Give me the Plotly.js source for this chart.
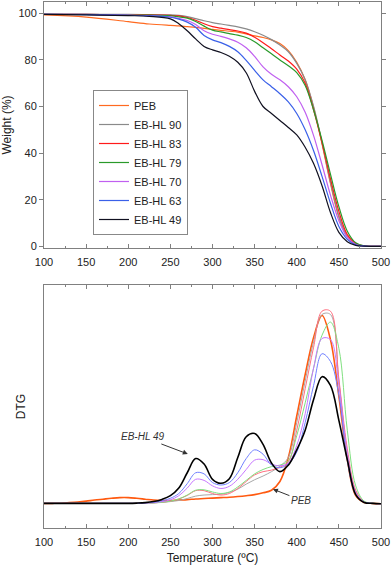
<!DOCTYPE html>
<html>
<head>
<meta charset="utf-8">
<script src="https://cdn.plot.ly/plotly-3.0.1.min.js"></script>
<style>html,body{margin:0;padding:0;background:#fff;}#chart{width:392px;height:566px;}</style>
</head>
<body>
<div id="chart"></div>
<script>
// ---------- DATA ----------
const seriesNames = ['PEB', 'EB-HL 90', 'EB-HL 83', 'EB-HL 79', 'EB-HL 70', 'EB-HL 63', 'EB-HL 49'];

// TGA: weight (%) vs temperature (ºC)
const tgaTemp = [100,150,200,225,250,260,270,280,290,300,310,320,330,340,350,360,370,380,390,400,410,420,430,440,450,460,470,480,500];
const tgaPEB   = [99.3,98.4,96.4,95.4,94.8,94.6,94.3,94.0,93.5,93.1,92.7,92.3,91.9,91.2,90.3,89.6,88.6,87.0,84.0,79.0,71.5,59.5,44.0,27.0,12.5,4.0,0.8,0.1,0];
const tgaHL90  = [99.7,99.6,99.5,99.4,99.3,99.1,98.6,97.7,96.8,96.0,95.4,94.8,94.2,93.3,92.1,90.6,88.7,86.4,83.5,78.5,71.5,60.0,44.5,27.5,13.0,4.0,0.8,0.1,0];
const tgaHL83  = [99.6,99.5,99.4,99.3,99.1,98.9,98.2,97.0,95.5,94.3,93.6,93.0,92.4,91.5,89.7,87.4,84.8,82.1,79.5,76.0,70.0,58.5,44.5,29.0,15.0,5.0,1.2,0.2,0];
const tgaHL79  = [99.6,99.5,99.3,99.2,98.9,98.5,97.9,96.5,94.5,92.8,92.0,91.3,90.6,89.6,87.8,85.2,82.6,80.0,77.5,74.5,69.0,58.5,45.5,31.0,17.0,6.5,1.5,0.2,0];
const tgaHL70  = [99.6,99.5,99.2,99.0,98.5,97.8,96.9,95.2,92.5,91.0,90.1,89.0,87.6,85.2,81.5,77.0,73.8,71.5,68.5,64.2,57.5,47.5,35.0,22.0,11.0,3.8,0.8,0.1,0];
const tgaHL63  = [99.6,99.4,99.1,98.9,98.3,97.5,96.2,94.0,90.5,88.6,87.4,85.8,83.5,79.8,75.5,71.4,68.5,65.5,62.0,57.0,50.0,41.0,30.0,18.5,8.5,3.0,0.6,0.1,0];
const tgaHL49  = [99.5,99.3,99.0,98.7,97.6,95.5,92.5,89.0,85.8,84.3,83.2,81.6,79.0,74.5,66.5,60.0,57.0,54.0,51.0,47.8,42.5,35.5,26.0,14.5,6.0,2.0,0.4,0.1,0];

// DTG (arbitrary units) vs temperature (ºC)
const dtgTemp = [100,110,120,130,140,150,160,170,180,190,200,210,220,230,240,250,260,270,280,290,300,310,320,330,340,350,360,370,380,390,400,410,420,430,440,450,460,470,480,490,500];
const dtgPEB  = [0,0,0.05,0.3,0.6,1.0,1.5,1.9,2.3,2.6,2.6,2.3,1.9,1.5,1.3,1.3,1.5,1.7,2.0,2.2,2.4,2.6,2.8,3.1,3.5,4.0,4.8,6.0,10,21,40,59,76,86,75,49,20,3.5,0.4,0,-0.2];
const dtgHL90 = [0,0,0,0,0,0,0,0,0,0,0,0.05,0.1,0.2,0.4,0.8,1.3,2.2,3.3,3.8,4.0,4.2,5.0,6.5,8.8,10.8,12.5,14.5,17,21,37,56,74,86.5,86.5,56,23,5.5,0.7,0,-0.2];
const dtgHL83 = [0,0,0,0,0,0,0,0,0,0,0,0.05,0.1,0.2,0.5,1.0,2.0,3.6,5.8,5.8,4.5,3.8,4.5,6.8,10,13,14.5,15.2,16.5,19,33.5,52.5,71.5,88,88,57,25,6,0.8,0,-0.2];
const dtgHL79 = [0,0,0,0,0,0,0,0,0,0,0,0.05,0.1,0.2,0.5,1.0,2.0,3.8,6.0,6.2,5.2,4.5,5.2,7.5,10.5,13.5,15.5,16.8,17.5,19.5,31,46,62,77,83,71,33.5,8,1,0.1,-0.2];
const dtgHL70 = [0,0,0,0,0,0,0,0,0,0,0,0,0.1,0.3,0.8,1.6,3.5,7,11,10.5,8,6.8,7.8,11,15.5,19.8,20,18,17.2,18.5,26.5,41,62,75.5,75,54,23,5,0.6,0,-0.2];
const dtgHL63 = [0,0,0,0,0,0,0,0,0,0,0,0,0.2,0.5,1.2,2.3,4.5,9,14,13.5,9.5,8.4,9.5,14,20.5,24.5,22.5,17.5,16.3,18,23.5,37,54,68.5,65,49.5,19.5,4,0.5,0,-0.2];
const dtgHL49 = [0,0,0,0,0,0,0,0,0,0,0,0.1,0.3,0.8,1.8,3.5,7,14,20.5,18,11,9.2,11.3,21,30.5,32,27,18.5,14.5,17.5,24.5,33.5,47.5,58,54,38,20,4,0.4,0,-0.2];

const xTickVals = [100,150,200,250,300,350,400,450,500];
const yTickVals = [0,20,40,60,80,100];

// ---------- STYLE ----------
const tgaColors = ['#FF6A20','#8A8A8A','#FF1A1A','#2A9A2A','#C060F0','#3A60E8','#101020'];
const dtgColors = ['#FF5A10','#A8A8A8','#FF7080','#80E080','#C878FF','#7080FF','#000000'];
const dtgWidths = [1.6,1,1,1,1,1,1.6];

const tgaSeries = [tgaPEB,tgaHL90,tgaHL83,tgaHL79,tgaHL70,tgaHL63,tgaHL49];
const dtgSeries = [dtgPEB,dtgHL90,dtgHL83,dtgHL79,dtgHL70,dtgHL63,dtgHL49];

const traces = [];
tgaSeries.forEach((s,i)=>{
  traces.push({x:tgaTemp,y:s,type:'scatter',mode:'lines',name:seriesNames[i],
    line:{color:tgaColors[i],width:1.2,shape:'spline',smoothing:1},xaxis:'x',yaxis:'y',showlegend:true});
});
dtgSeries.forEach((s,i)=>{
  traces.push({x:dtgTemp,y:s,type:'scatter',mode:'lines',name:seriesNames[i],
    line:{color:dtgColors[i],width:dtgWidths[i],shape:'spline',smoothing:1},xaxis:'x2',yaxis:'y2',showlegend:false});
});

const font = {family:'Liberation Sans, Arial, sans-serif', size:11, color:'#222'};
const axisCommon = {showline:true, linecolor:'#808080', linewidth:1, mirror:'ticks', zeroline:false, showgrid:false};

const layout = {
  width:392, height:566,
  margin:{l:44, r:11, t:2, b:38},
  paper_bgcolor:'#fff', plot_bgcolor:'#fff',
  font:font,
  showlegend:true,
  legend:{x:0.1454, y:0.8327, xanchor:'left', yanchor:'top', bgcolor:'#fff',
    bordercolor:'#888', borderwidth:1, font:{family:font.family,size:11,color:'#222'}, itemwidth:30},
  xaxis:Object.assign({}, axisCommon, {anchor:'y', domain:[0,1], range:[100,500],
    tickvals:xTickVals, ticks:'inside', ticklen:4, tickcolor:'#808080',
    minor:{ticks:'inside', dtick:25, ticklen:2, tickcolor:'#808080'},
    ticklabelstandoff:4, tickfont:{size:11}}),
  yaxis:Object.assign({}, axisCommon, {anchor:'x', domain:[0.5323,1], range:[-0.73,104.85],
    tickvals:yTickVals, ticks:'outside', ticklen:4, tickcolor:'#808080', tickfont:{size:11},
    title:{text:'Weight (%)', font:{size:12}, standoff:6}}),
  xaxis2:Object.assign({}, axisCommon, {anchor:'y2', domain:[0,1], range:[100,500],
    tickvals:xTickVals, ticks:'inside', ticklen:4, tickcolor:'#808080',
    minor:{ticks:'inside', dtick:25, ticklen:2, tickcolor:'#808080'},
    ticklabelstandoff:4, tickfont:{size:11},
    title:{text:'Temperature (ºC)', font:{size:12}, standoff:6}}),
  yaxis2:Object.assign({}, axisCommon, {anchor:'x2', domain:[0,0.462], range:[-11.3,100],
    showticklabels:false, ticks:'',
    title:{text:'DTG', font:{size:12}, standoff:14}}),
  annotations:[
    {xref:'x2', yref:'y2', x:270.7, y:22.6, ax:-45, ay:-17, axref:'pixel', ayref:'pixel',
     text:'<i>EB-HL 49</i>', showarrow:true, arrowhead:2, arrowsize:1, arrowwidth:1, arrowcolor:'#333',
     font:{size:10, color:'#333'}, xanchor:'center', yanchor:'middle'},
    {xref:'x2', yref:'y2', x:371.7, y:6.5, ax:28, ay:11, axref:'pixel', ayref:'pixel',
     text:'<i>PEB</i>', showarrow:true, arrowhead:2, arrowsize:1, arrowwidth:1, arrowcolor:'#333',
     font:{size:10, color:'#333'}, xanchor:'center', yanchor:'middle'}
  ]
};

Plotly.newPlot('chart', traces, layout, {staticPlot:true, displayModeBar:false});
</script>
</body>
</html>
